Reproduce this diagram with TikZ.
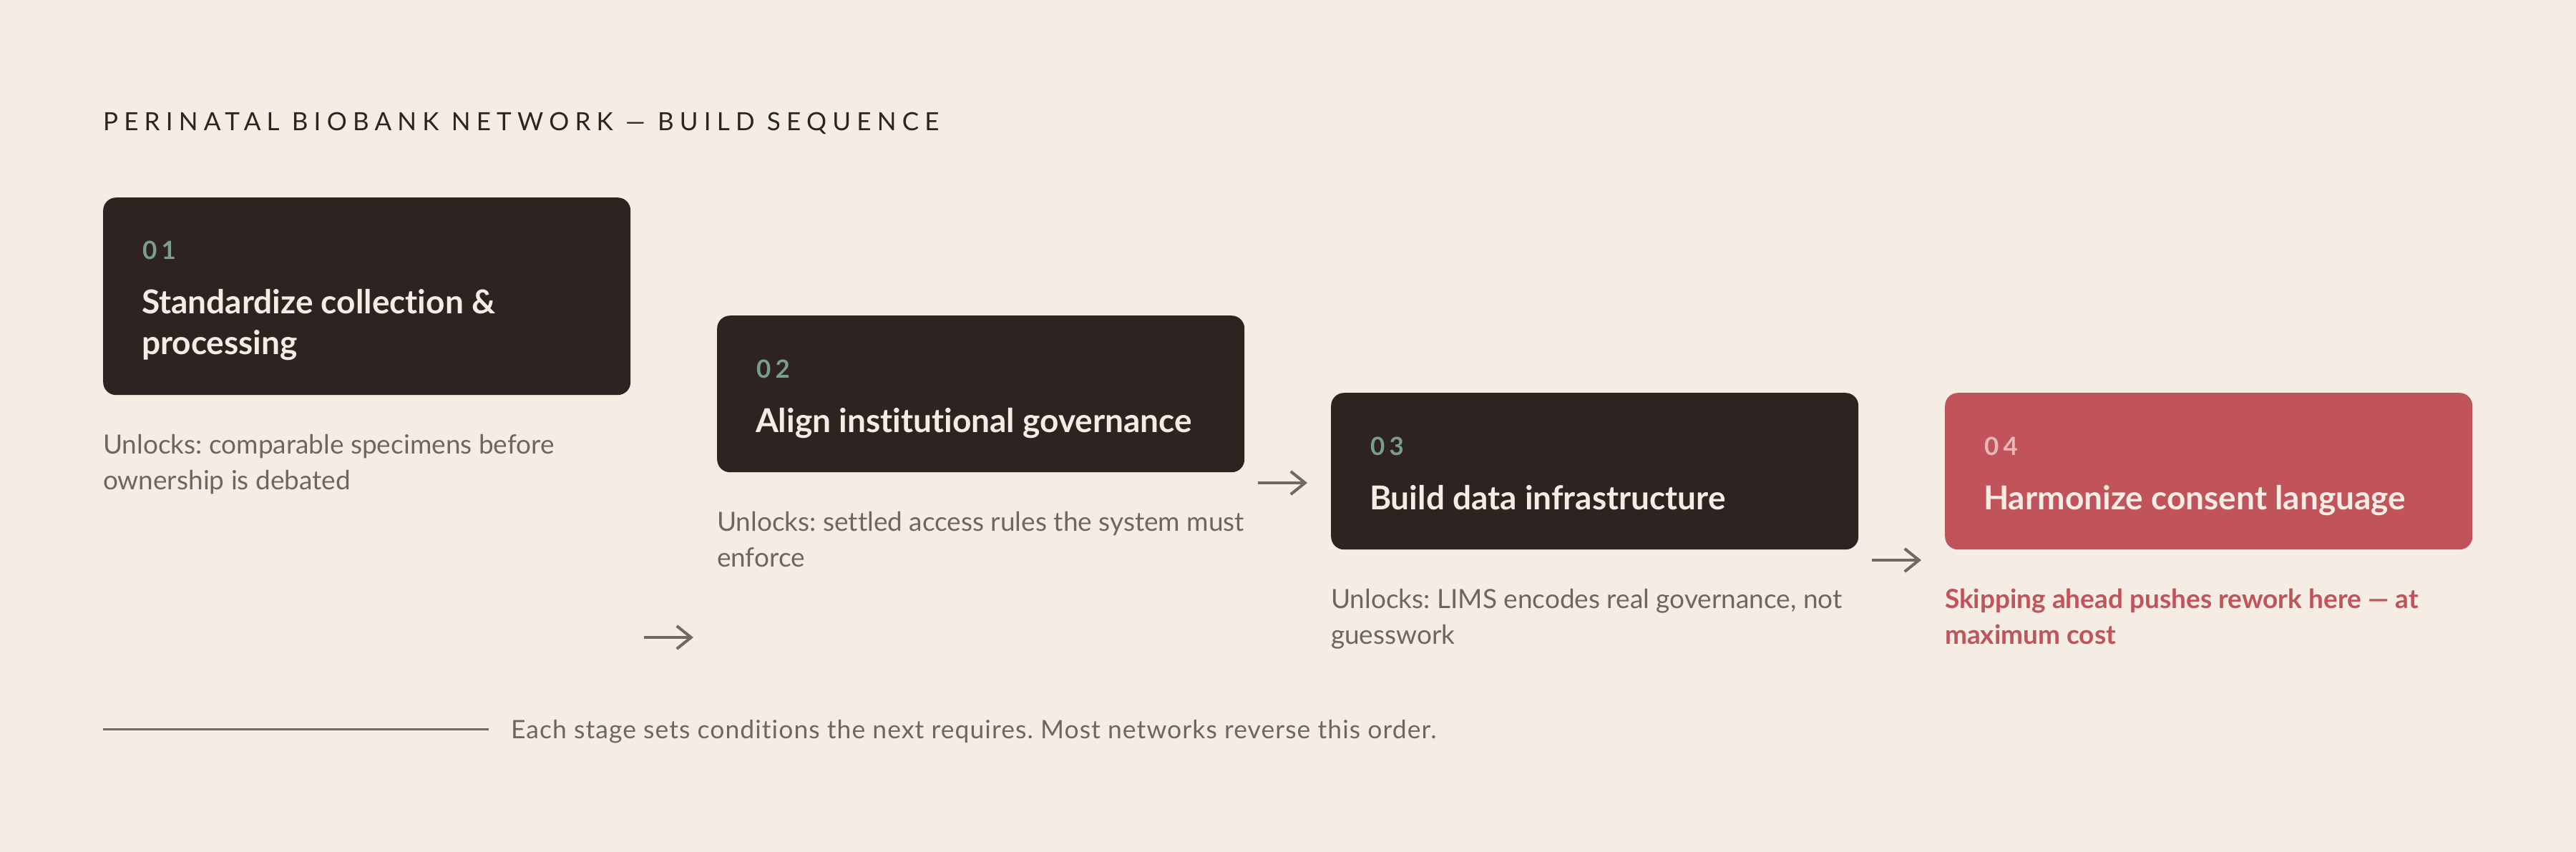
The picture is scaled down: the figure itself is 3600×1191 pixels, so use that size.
\documentclass[tikz,border=0pt]{standalone}
\usepackage{fontspec}
\setmainfont{Lato}[Ligatures={NoCommon}]
\newfontfamily\spacedfont[LetterSpace=23.5,Ligatures={NoCommon}]{Lato}
\newfontfamily\numfont[LetterSpace=18]{Lato}
\newfontfamily\notefont[LetterSpace=3,Ligatures={NoCommon}]{Lato}
\usetikzlibrary{arrows.meta}
\definecolor{bgc}{HTML}{F5ECE4}
\definecolor{darkc}{HTML}{2E2321}
\definecolor{redc}{HTML}{C1545A}
\definecolor{grayc}{HTML}{6F6662}
\definecolor{greenc}{HTML}{7A9E8D}
\definecolor{pinkc}{HTML}{E9B8B6}
\definecolor{creamc}{HTML}{F5ECE4}
\definecolor{linec}{HTML}{716865}
\frenchspacing
\tikzset{
  stagebox/.style={draw=none, rounded corners=18pt, minimum width=737pt, anchor=north west, inner sep=0pt},
  darkbox/.style={stagebox, fill=darkc},
  redbox/.style={stagebox, fill=redc},
  txt/.style={anchor=base west, inner sep=0pt, outer sep=0pt},
  numtxt/.style={txt, font=\numfont\bfseries\fontsize{35}{40}\selectfont},
  headtxt/.style={txt, text=creamc, font=\bfseries\fontsize{46}{57}\selectfont},
  unlocktxt/.style={txt, text=grayc, font=\fontsize{37}{50}\selectfont},
  warntxt/.style={txt, text=redc, font=\bfseries\fontsize{37}{50}\selectfont},
  flowarrow/.style={draw=linec, line width=4pt, -{Straight Barb[length=20pt, width=32pt, line width=4pt]}},
}
\begin{document}
\begin{tikzpicture}[x=1pt, y=-1pt]
\fill[bgc] (0,0) rectangle (3600,1191);
\useasboundingbox (0,0) rectangle (3600,1191);

% title
\node[txt, text=darkc, font=\spacedfont\fontsize{35}{40}\selectfont] (title) at (144,182) {PERINATAL BIOBANK NETWORK — BUILD SEQUENCE};

% boxes
\node[darkbox, minimum height=276pt] (box1) at (144,276) {};
\node[darkbox, minimum height=219pt] (box2) at (1002,441) {};
\node[darkbox, minimum height=219pt] (box3) at (1860,549) {};
\node[redbox, minimum height=219pt] (box4) at (2718,549) {};

% box 1
\node[numtxt, text=greenc] (n1) at (199,362) {01};
\node[headtxt] (h1a) at (198,438) {Standardize collection \&};
\node[headtxt] (h1b) at (198,495) {processing};
\node[unlocktxt] (u1a) at (144,634) {Unlocks: comparable specimens before};
\node[unlocktxt] (u1b) at (144,684) {ownership is debated};

% box 2
\node[numtxt, text=greenc] (n2) at (1057,528) {02};
\node[headtxt] (h2) at (1056,604) {Align institutional governance};
\node[unlocktxt] (u2a) at (1002,742) {Unlocks: settled access rules the system must};
\node[unlocktxt] (u2b) at (1002,792) {enforce};

% box 3
\node[numtxt, text=greenc] (n3) at (1915,636) {03};
\node[headtxt] (h3) at (1914,712) {Build data infrastructure};
\node[unlocktxt] (u3a) at (1860,850) {Unlocks: LIMS encodes real governance, not};
\node[unlocktxt] (u3b) at (1860,900) {guesswork};

% box 4
\node[numtxt, text=pinkc] (n4) at (2773,636) {04};
\node[headtxt] (h4) at (2772,712) {Harmonize consent language};
\node[warntxt] (w4a) at (2718,850) {Skipping ahead pushes rework here — at};
\node[warntxt] (w4b) at (2718,900) {maximum cost};

% arrows
\coordinate (a1s) at (900,891);  \coordinate (a1e) at (969,891);
\coordinate (a2s) at (1758,675); \coordinate (a2e) at (1827,675);
\coordinate (a3s) at (2616,783); \coordinate (a3e) at (2685,783);
\draw[flowarrow] (a1s) -- (a1e);
\draw[flowarrow] (a2s) -- (a2e);
\draw[flowarrow] (a3s) -- (a3e);

% footer
\coordinate (rs) at (144,1019); \coordinate (re) at (683,1019);
\draw[linec, line width=3pt] (rs) -- (re);
\node[txt, text=grayc, font=\notefont\fontsize{35.5}{40}\selectfont] (note) at (714,1032) {Each stage sets conditions the next requires. Most networks reverse this order.};
\end{tikzpicture}
\end{document}
